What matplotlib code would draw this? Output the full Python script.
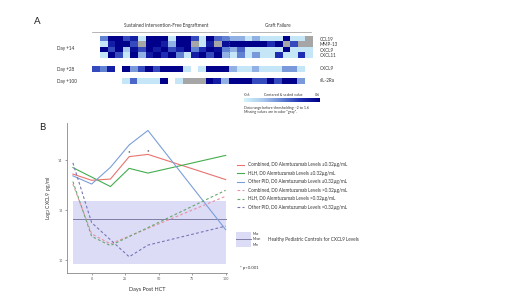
import numpy as np
import matplotlib.pyplot as plt
from matplotlib.colors import LinearSegmentedColormap

plt.rcParams['font.family'] = ['Lato', 'DejaVu Sans']

W, H = 520, 293

# ---------------- Panel A data (centered & scaled values) ----------------
G = 99    # missing value -> gray
B = -99   # no sample -> blank
hm_rows = ['CCL19', 'MMP-13', 'CXCL9', 'CXCL11']
day14 = [
    [0.0, 0.6, 0.6, 0.2, 0.4, -0.5, 0.6, 0.6, 0.6, -0.5, 0.6, 0.6, 0.2, -0.5, 0.6, 0.1, 0.0,
     -0.2, -0.2, -0.5, -0.2, -0.5, -0.5, -0.5, 0.6, -0.5, -0.5, G],
    [-0.5, 0.4, 0.6, 0.6, 0.2, G, 0.6, 0.6, 0.4, -0.2, 0.6, 0.6, G, -0.5, 0.4, G, 0.5,
     0.6, 0.6, 0.6, 0.6, 0.6, 0.3, 0.6, G, 0.2, G, G],
    [0.6, 0.2, 0.6, -0.3, 0.5, 0.2, 0.6, 0.4, 0.6, 0.2, 0.4, 0.6, 0.0, 0.3, 0.6, 0.5, 0.0,
     -0.2, 0.1, -0.5, -0.5, -0.5, -0.5, -0.5, 0.6, -0.5, -0.5, -0.5],
    [-0.5, 0.6, 0.2, -0.5, 0.6, -0.2, 0.4, 0.6, 0.3, 0.6, 0.0, -0.5, 0.4, 0.6, 0.2, 0.6, -0.2,
     -0.5, 0.0, -0.5, -0.1, -0.5, -0.5, 0.3, -0.5, -0.5, 0.3, -0.5],
]
day28_cxcl9 = [0.2, 0.0, 0.4, B, 0.6, -0.1, 0.2, 0.6, 0.2, 0.6, 0.6, 0.6, -0.5, B, -0.5, 0.6, 0.6, 0.6,
               -0.2, -0.5, -0.5, -0.2, -0.5, -0.5, -0.5, -0.1, -0.1, -0.5]
day100_sil2ra = [-0.5, 0.1, -0.5, -0.5, -0.5, 0.6, B, -0.5, G, G, G, 0.6, 0.4, -0.2,
                 0.6, 0.6, 0.6, 0.2, 0.2, 0.6, 0.2, 0.6, 0.6, -0.1]

# ---------------- Panel B data (log2 CXCL9 pg/ml) ----------------
series = [
    ('Combined, D0 Alemtuzumab Levels \u22640.32\u00b5g/mL', '#e8736f', '-',
     [-14, 0, 14, 28, 42, 100], [13.45, 13.2, 13.25, 14.15, 14.24, 13.23]),
    ('HLH, D0 Alemtuzumab Levels \u22640.32\u00b5g/mL', '#43ad4f', '-',
     [-14, 14, 28, 42, 100], [13.71, 12.95, 13.68, 13.49, 14.2]),
    ('Other PID, D0 Alemtuzumab Levels \u22640.32\u00b5g/mL', '#7b9fd8', '-',
     [-14, 0, 14, 28, 42, 100], [13.38, 13.05, 13.72, 14.62, 15.2, 11.22]),
    ('Combined, D0 Alemtuzumab Levels >0.32\u00b5g/mL', '#e890a4', '--',
     [-14, 0, 14, 100], [13.05, 11.05, 10.65, 12.56]),
    ('HLH, D0 Alemtuzumab Levels >0.32\u00b5g/mL', '#69a86d', '--',
     [-14, 0, 14, 100], [13.15, 10.95, 10.58, 12.8]),
    ('Other PID, D0 Alemtuzumab Levels >0.32\u00b5g/mL', '#7677b5', '--',
     [-14, 0, 28, 42, 100], [13.9, 11.5, 10.13, 10.6, 11.36]),
]
ctrl_max, ctrl_mean, ctrl_min = 12.37, 11.64, 9.83
sig_days = [28, 42]
sig_vals = [14.3, 14.36]
xticks = [0, 25, 50, 75, 100]
yticks = [10, 12, 14]

fig = plt.figure(figsize=(W / 100, H / 100), dpi=100)

# overlay axes in pixel coordinates for panel A and annotations
ov = fig.add_axes([0, 0, 1, 1])
ov.axis('off')

cmap = LinearSegmentedColormap.from_list(
    'hm', ['#d2f5fb', '#a9c8ec', '#6282d3', '#1f2eb3', '#00008a'])
cmap.set_over('#a6a6a6')
cmap.set_under('none')

x0, cw = 92, 7.6


def draw_block(vals, col0, ytop, rh):
    arr = np.array(vals, dtype=float)
    if arr.ndim == 1:
        arr = arr[None, :]
    nr, nc = arr.shape
    ov.imshow(arr, cmap=cmap, vmin=-0.6, vmax=0.6, interpolation='nearest',
              aspect='auto',
              extent=[x0 + col0 * cw, x0 + (col0 + nc) * cw, ytop + nr * rh, ytop])


draw_block(day14, 1, 37, 5.3)
draw_block(day28_cxcl9, 0, 66.5, 5.3)
draw_block(day100_sil2ra, 4, 78.5, 5.3)
ov.plot([x0 + 18 * cw] * 2, [37, 58.2], color='#555555', lw=0.5, ls=(0, (2, 1)))

fs = 3.3
tc = '#333333'
for i, name in enumerate(hm_rows):
    ov.text(320, 39.7 + i * 5.3, name, fontsize=fs, va='center', color=tc)
ov.text(320, 69, 'CXCL9', fontsize=fs, va='center', color=tc)
ov.text(320, 81, 'sIL-2Ra', fontsize=fs, va='center', color=tc)
ov.text(57, 48.5, 'Day +14', fontsize=fs, va='center', color=tc)
ov.text(57, 69.5, 'Day +28', fontsize=fs, va='center', color=tc)
ov.text(57, 82, 'Day +100', fontsize=fs, va='center', color=tc)

ov.text(166, 25.3, 'Sustained Intervention-Free Engraftment', fontsize=fs,
        ha='center', va='center', color=tc)
ov.plot([92, 228], [31.7, 31.7], color='#999999', lw=0.5)
ov.text(278, 25.5, 'Graft Failure', fontsize=fs, ha='center', va='center', color=tc)
ov.plot([231, 311], [31.7, 31.7], color='#999999', lw=0.5)

# colour scale
cb = np.linspace(-0.6, 0.6, 100)[None, :]
ov.imshow(cb, cmap=cmap, vmin=-0.6, vmax=0.6, aspect='auto', extent=[244, 320, 102, 98.8])
ov.text(244, 95.5, '-0.6', fontsize=2.6, va='center', color=tc)
ov.text(283, 95.5, 'Centered & scaled value', fontsize=2.6, ha='center', va='center', color=tc)
ov.text(320, 95.5, '0.6', fontsize=2.6, ha='right', va='center', color=tc)
ov.text(244, 107.5, 'Data range before thresholding: -2 to 1.6', fontsize=2.6, va='center', color=tc)
ov.text(244, 111.8, 'Missing values are in color "gray".', fontsize=2.6, va='center', color=tc)

ov.text(37.5, 21.5, 'A', fontsize=7, ha='center', va='center', color='#222222')
ov.text(42, 127.5, 'B', fontsize=7, ha='center', va='center', color='#222222')

# ---------------- Panel B ----------------
ax = fig.add_axes([67 / W, (H - 273) / H, 160 / W, 150 / H])
ax.set_xlim(-18.4, 101)
ax.set_ylim(9.48, 15.5)
ax.fill_between([-14, 100], ctrl_min, ctrl_max, color='#dcdcf7', lw=0, zorder=0)
ax.plot([-14, 100], [ctrl_mean, ctrl_mean], color='#7f7fa6', lw=0.7, zorder=1)
for label, color, ls, d, v in series:
    if ls == '--':
        ax.plot(d, v, color=color, lw=0.8, ls=(0, (2.5, 2)), label=label)
    else:
        ax.plot(d, v, color=color, lw=0.8, label=label)
for d, v in zip(sig_days, sig_vals):
    ax.text(d, v, '*', fontsize=4.5, ha='center', va='center', color='black')

for s in ['top', 'right']:
    ax.spines[s].set_visible(False)
for s in ['left', 'bottom']:
    ax.spines[s].set_color('#888888')
    ax.spines[s].set_linewidth(0.6)
ax.set_xticks(xticks)
ax.set_yticks(yticks)
ax.tick_params(labelsize=2.6, length=1.2, width=0.4, colors='#555555', pad=2)
ax.set_xlabel('Days Post HCT', fontsize=4, color=tc, labelpad=4)
ax.set_ylabel('Log$_2$ CXCL9  pg/ml', fontsize=3.6, color=tc, labelpad=4)

ax.legend(loc='upper left', bbox_to_anchor=(233 / W, (H - 158) / H),
          bbox_transform=fig.transFigure, frameon=False, fontsize=3.3,
          handlelength=1.6, handletextpad=0.7, labelspacing=0.78,
          labelcolor=tc)

# healthy control legend
ov.fill_between([236, 251], 231.5, 246.5, color='#dcdcf7', lw=0)
ov.plot([236, 251], [239, 239], color='#7f7fa6', lw=0.7)
ov.text(252.5, 234, 'Max', fontsize=2.4, va='center', color=tc)
ov.text(252.5, 239.2, 'Mean', fontsize=2.4, va='center', color=tc)
ov.text(252.5, 244.5, 'Min', fontsize=2.4, va='center', color=tc)
ov.text(268, 239.5, 'Healthy Pediatric Controls for CXCL9 Levels', fontsize=3.3,
        va='center', color=tc)
ov.text(240, 268, '* p<0.001', fontsize=3.1, va='center', color=tc)
ov.set_xlim(0, W)
ov.set_ylim(H, 0)

fig.savefig('out.png', dpi=100)
